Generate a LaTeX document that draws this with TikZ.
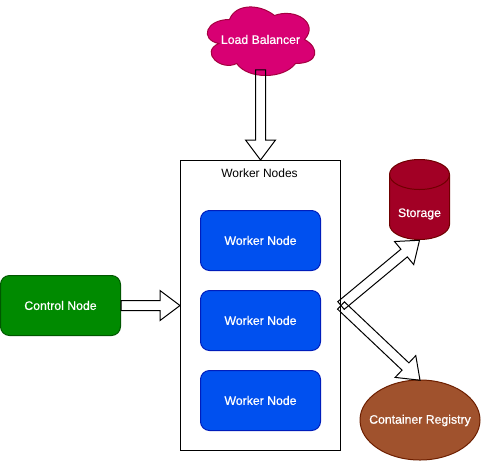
\documentclass[tikz,border=0pt]{standalone}
\usepackage{fontspec}
\setmainfont{Liberation Sans}
\newfontfamily\labelfont[FakeBold=0.7]{Liberation Sans}
\usetikzlibrary{calc}
\tikzset{
  px/.style={x=0.75pt,y=-0.75pt},
  thinline/.style={line width=0.75pt},
  rbox/.style={thinline,rounded corners=6.75pt,minimum width=90pt,minimum height=45pt,inner sep=0pt,text=white,font=\fontsize{9.2}{11}\labelfont},
  workerbox/.style={rbox,draw=wstroke,fill=wfill},
  shapelabel/.style={text=white,font=\fontsize{9.2}{11}\labelfont,inner sep=0pt},
  blockline/.style={thinline,draw=black,line join=miter}
}
\definecolor{wfill}{HTML}{0050EF}\definecolor{wstroke}{HTML}{001DBC}
\definecolor{gfill}{HTML}{008A00}\definecolor{gstroke}{HTML}{005700}
\definecolor{pfill}{HTML}{D80073}\definecolor{pstroke}{HTML}{A50040}
\definecolor{rfill}{HTML}{A20025}\definecolor{rstroke}{HTML}{6F0000}
\definecolor{bfill}{HTML}{A0522D}\definecolor{bstroke}{HTML}{6D1F00}
% block arrow outline from #1 to #2: shaft 10px wide, head 30px wide, 20px long
\newcommand{\blockarrow}[2]{%
  \path let \p1=(#1) in coordinate (ba-s) at (\x1,\y1);
  \path let \p1=(#2) in coordinate (ba-t) at (\x1,\y1);
  \coordinate (ba-b) at ($(ba-t)!15pt!(ba-s)$);
  \draw[blockline]
    ($(ba-s)!3.75pt!90:(ba-t)$) -- ($(ba-b)!3.75pt!-90:(ba-s)$) --
    ($(ba-b)!11.25pt!-90:(ba-s)$) -- (ba-t) --
    ($(ba-b)!11.25pt!90:(ba-s)$) -- ($(ba-b)!3.75pt!90:(ba-s)$) --
    ($(ba-s)!3.75pt!-90:(ba-t)$) -- cycle;
}
\begin{document}
\begin{tikzpicture}[px]
\useasboundingbox (0,0) rectangle (481,461);
\begin{scope}[shift={(-0.5,-0.5)}]
% cloud
\filldraw[thinline,fill=pfill,draw=pstroke]
  (230,20) .. controls (206,20) and (200,40) .. (219.2,44)
  .. controls (200,52.8) and (221.6,72) .. (237.2,64)
  .. controls (248,80) and (284,80) .. (296,64)
  .. controls (320,64) and (320,48) .. (305,40)
  .. controls (320,24) and (296,8) .. (275,16)
  .. controls (260,4) and (236,4) .. (230,20) -- cycle;
\node[shapelabel,minimum width=75pt,minimum height=45pt] (lb) at (261,40) {Load Balancer};
% worker container
\node[draw=black,thinline,minimum width=120pt,minimum height=217.5pt,inner sep=0pt] (wn) at (261,306) {};
\node[font=\fontsize{9}{11}\selectfont,inner sep=0pt] (wntitle) at (260,174) {Worker Nodes};
\node[workerbox] (w1) at (261,241) {Worker Node};
\node[workerbox] (w2) at (261,321) {Worker Node};
\node[workerbox] (w3) at (261,401) {Worker Node};
\node[rbox,draw=gstroke,fill=gfill] (cn) at (61,306) {Control Node};
% storage cylinder
\filldraw[thinline,fill=rfill,draw=rstroke]
  (390,175) arc[x radius=30,y radius=15,start angle=180,end angle=360]
  -- (450,225) arc[x radius=30,y radius=15,start angle=0,end angle=180] -- cycle;
\draw[thinline,draw=rstroke] (390,175) arc[x radius=30,y radius=15,start angle=180,end angle=0];
\node[shapelabel,minimum width=45pt,minimum height=60pt] (st) at (420,200.5) {};
\node[shapelabel] (stlabel) at (420,214.5) {Storage};
% registry
\filldraw[thinline,fill=bfill,draw=bstroke] (420.5,420.5) ellipse[x radius=60,y radius=40];
\node[shapelabel,minimum width=90pt,minimum height=60pt] (cr) at (420.5,421) {Container Registry};
% connectors
\blockarrow{lb.south}{wn.north}
\blockarrow{cn.east}{wn.west}
\blockarrow{wn.east}{st.south}
\blockarrow{wn.east}{cr.north}
\end{scope}
\end{tikzpicture}
\end{document}
